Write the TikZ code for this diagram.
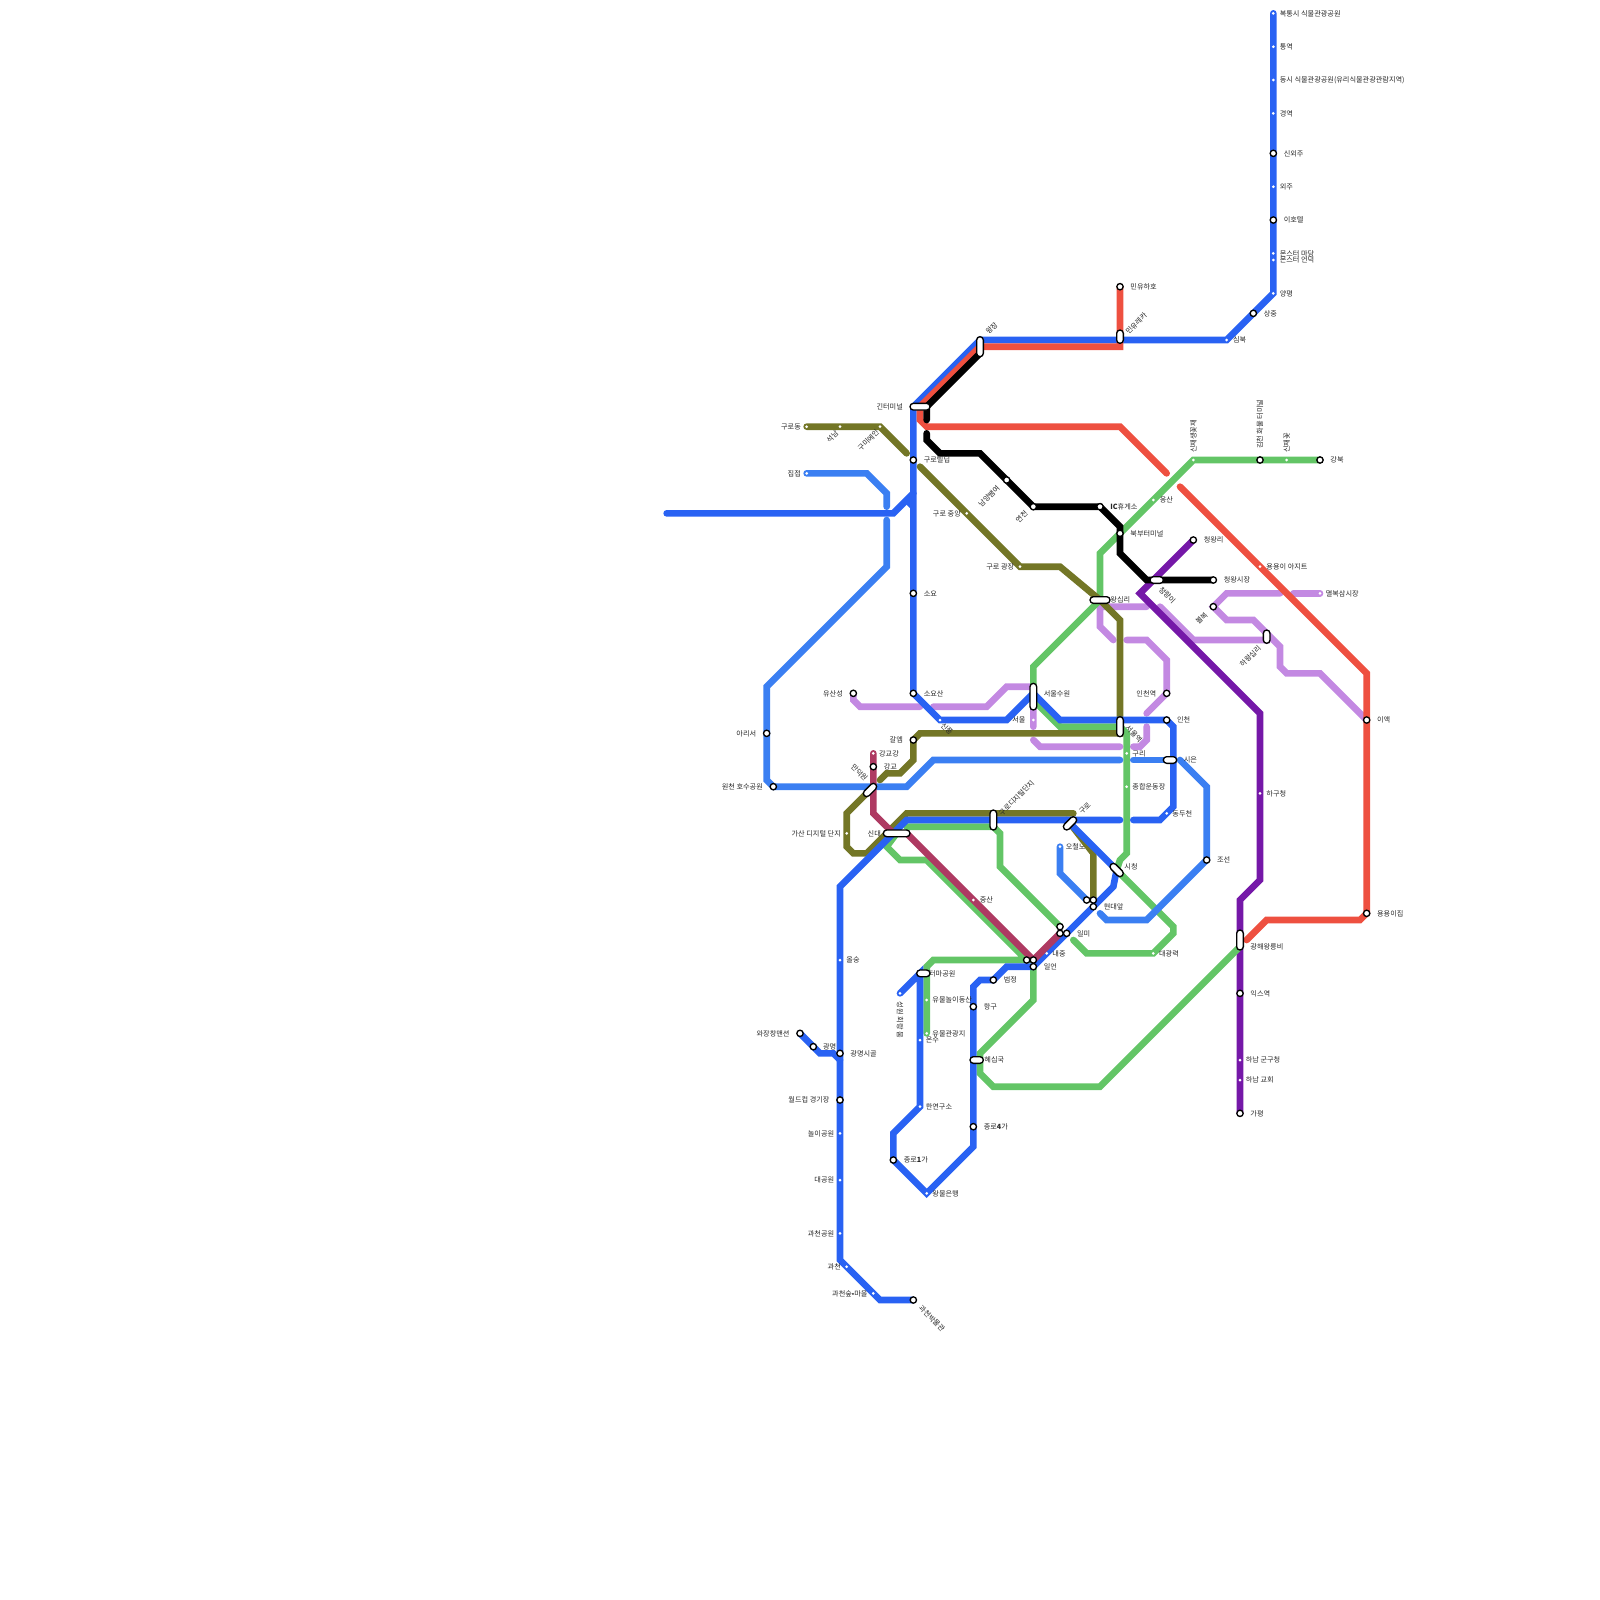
\documentclass[tikz,border=0pt]{standalone}
\usepackage{fontspec}
\setmainfont{Noto Sans CJK KR}
\usepackage{xcolor}
\usetikzlibrary{backgrounds}
\definecolor{blueline}{HTML}{2962F3}
\definecolor{skyline}{HTML}{3B7FF2}
\definecolor{redline}{HTML}{EE5040}
\definecolor{greenline}{HTML}{63C566}
\definecolor{oliveline}{HTML}{737626}
\definecolor{lilacline}{HTML}{C389E2}
\definecolor{purpleline}{HTML}{7518A8}
\definecolor{rubyline}{HTML}{AE3A62}
\tikzset{
  route/.style={line width=0.1cm, line cap=round, line join=miter},
  sdot/.style={circle, fill=white, inner sep=0pt, minimum size=0.045cm},
  sbig/.style={circle, fill=white, draw=black, line width=0.02cm, inner sep=0pt, minimum size=0.095cm},
  xchange/.style={draw=black, fill=white, line width=0.02cm, inner sep=0pt, rounded corners=0.05cm},
  lbl/.style={font=\fontsize{3.05pt}{3.6pt}\selectfont, text=black!85, inner sep=0pt, anchor=west},
  lbr/.style={lbl, anchor=east},
  lup/.style={lbl, rotate=45},
  ldn/.style={lbl, rotate=-45},
  lvert/.style={lbl, rotate=90},
}
\begin{document}
\begin{tikzpicture}[x=0.1cm, y=-0.1cm]
\useasboundingbox (0,0) rectangle (240,240);
% blue north branch
\node[sdot] (bokt) at (191,2) {};
\node[lbl] at (191.9,2) {복통시 식물관광공원};
\node[sdot] (tong) at (191,7) {};
\node[lbl] at (191.9,7) {통역};
\node[sdot] (dong) at (191,12) {};
\node[lbl] at (191.9,12) {동시 식물관광공원(유리식물관광관람지역)};
\node[sdot] (gyeong) at (191,17) {};
\node[lbl] at (191.9,17) {경역};
\node[sbig] (sinoe) at (191,23) {};
\node[lbl] at (192.5,23) {신외주};
\node[sdot] (oeju) at (191,28) {};
\node[lbl] at (191.9,28) {외주};
\node[sbig] (hotel) at (191,33) {};
\node[lbl] at (192.5,33) {이호텔};
\node[sdot] (madang) at (191,38) {};
\node[lbl] at (191.9,38) {몬스터 마당};
\node[sdot] (eondeok) at (191,39) {};
\node[lbl] at (191.9,39) {몬스터 언덕};
\node[sdot] (yangp) at (191,44) {};
\node[lbl] at (191.9,44) {양평};
\node[sbig] (sangj) at (188,47) {};
\node[lbl] at (189.5,47) {상중};
\node[sdot] (simb) at (184,51) {};
\node[lbl] at (184.9,51) {심북};
\node[sbig] (hoho) at (168,43) {};
\node[lbl] at (169.5,43) {민유하호};
\node[xchange, minimum width=0.1cm, minimum height=0.2cm] (eureka) at (168,50.5) {};
\node[lup] at (169,50) {민유레카};
% north-west
\node[xchange, minimum width=0.3cm, minimum height=0.1cm] (gteo) at (138,61) {};
\node[lbr] at (135.5,61) {긴터미널};
\node[xchange, minimum width=0.1cm, minimum height=0.3cm] (wangj) at (147,52) {};
\node[lup] at (148,50) {왕장};
\node[sdot] (gurod) at (121,64) {};
\node[lbr] at (120.2,64) {구로동};
\node[sdot] (seok) at (126,64) {};
\node[lup, anchor=east] at (125.6,64.8) {석남};
\node[sdot] (gumi) at (132,64) {};
\node[lup, anchor=east] at (131.7,64.6) {구미에인};
\node[sbig] (gubil) at (137,69) {};
\node[lbl] at (138.5,69) {구로빌딥};
\node[sdot] (jibj) at (121,71) {};
\node[lbr] at (120.2,71) {집접};
\node[sdot] (gujung) at (145,77) {};
\node[lbr] at (144.2,77) {구로 중앙};
\node[sdot] (gujang) at (153,85) {};
\node[lbr] at (152.2,85) {구로 광장};
\node[sbig] (soyo) at (137,89) {};
\node[lbl] at (138.5,89) {소요};
\node[sbig] (namy) at (151,72) {};
\node[lup, anchor=east] at (149.8,73) {남양쌤여};
\node[sbig] (yeonc) at (155,76) {};
\node[lup, anchor=east] at (154,76.8) {연천};
\node[sbig] (icrest) at (165,76) {};
\node[lbl] at (166.5,76) {\textbf{IC}휴게소};
\node[sbig] (bukb) at (168,80) {};
\node[lbl] at (169.5,80) {북부터미널};
\node[sdot] (oks) at (173,75) {};
\node[lbl] at (173.9,75) {옹산};
% north-east
\node[sdot] (ssin1) at (179,69) {};
\node[lvert] at (179,68) {신재생꽃재};
\node[sbig] (gimc) at (189,69) {};
\node[lvert] at (189,67.4) {김천 화물 터미널};
\node[sdot] (ssin2) at (193,69) {};
\node[lvert] at (193,68) {신재꽃};
\node[sbig] (gangb) at (198,69) {};
\node[lbl] at (199.5,69) {강북};
\node[sbig] (cheongr) at (179,81) {};
\node[lbl] at (180.5,81) {청왕리};
\node[xchange, minimum width=0.2cm, minimum height=0.1cm] (cheongy) at (173.5,87) {};
\node[ldn] at (174,88.2) {청량이};
\node[sbig] (cheongs) at (182,87) {};
\node[lbl] at (183.5,87) {청왕시장};
\node[sdot] (agit) at (189,85) {};
\node[lbl] at (189.9,85) {용용이 아지트};
\node[sdot] (byeol) at (198,89) {};
\node[lbl] at (198.8,89) {멸복삼시장};
\node[sbig] (bolb) at (182,91) {};
\node[lup, anchor=east] at (181,92) {볼복};
\node[xchange, minimum width=0.1cm, minimum height=0.2cm] (hawang) at (190,95.5) {};
\node[lup, anchor=east] at (189,97) {하왕십리};
\node[xchange, minimum width=0.3cm, minimum height=0.1cm] (wangs) at (165,90) {};
\node[lbl] at (166.5,90) {왕십리};
\node[sbig] (incy) at (175,104) {};
\node[lbr] at (173.5,104) {인천역};
\node[sbig] (inch) at (175,108) {};
\node[lbl] at (176.5,108) {인천};
\node[sbig] (iaek) at (205,108) {};
\node[lbl] at (206.5,108) {이액};
% middle
\node[sbig] (yusan) at (128,104) {};
\node[lbr] at (126.5,104) {유산성};
\node[sbig] (soyos) at (137,104) {};
\node[lbl] at (138.5,104) {소요산};
\node[sdot] (sinp) at (141,108) {};
\node[ldn] at (141.3,108.6) {신풍};
\node[xchange, minimum width=0.1cm, minimum height=0.4cm] (swon) at (155,104.5) {};
\node[lbl] at (156.5,104) {서울수원};
\node[sdot] (seoul) at (155,108) {};
\node[lbr] at (153.9,108) {서울};
\node[sbig] (gal) at (137,111) {};
\node[lbr] at (135.5,111) {갈엠};
\node[xchange, minimum width=0.1cm, minimum height=0.3cm] (seoulst) at (168,109) {};
\node[ldn] at (169,109) {서울역};
\node[sdot] (guri) at (169,113) {};
\node[lbl] at (169.8,113) {구리};
\node[xchange, minimum width=0.2cm, minimum height=0.1cm] (sieun) at (175.5,114) {};
\node[lbl] at (177.5,114) {시은};
\node[sdot] (jonghap) at (169,118) {};
\node[lbl] at (169.8,118) {종합운동장};
\node[sdot] (gangg) at (131,113) {};
\node[lbl] at (131.8,113) {강교강};
\node[sbig] (gang) at (131,115) {};
\node[lbl] at (132.5,115) {강교};
\node[sbig] (ari) at (115,110) {};
\node[lbr] at (113.5,110) {아리서};
\node[sbig] (wonc) at (116,118) {};
\node[lbr] at (114.5,118) {원천 호수공원};
\node[xchange, minimum height=0.1cm, rotate=45, minimum width=0.24cm] (mand) at (130.5,118.5) {};
\node[ldn, anchor=east] at (130,117) {만덕원};
\node[sdot] (gasan) at (127,125) {};
\node[lbr] at (126.2,125) {가산 디지털 단지};
\node[xchange, minimum width=0.4cm, minimum height=0.1cm] (sind) at (134.5,125) {};
\node[lbr] at (132.2,125) {신대};
\node[xchange, minimum width=0.1cm, minimum height=0.3cm] (gudi) at (149,123) {};
\node[lup] at (150,122.2) {구로디지털단지};
\node[xchange, minimum height=0.1cm, rotate=45, minimum width=0.24cm] (guro) at (160.5,123.5) {};
\node[lup] at (162,122) {구로};
\node[sdot] (ocheol) at (159,127) {};
\node[lbl] at (159.8,127) {오철노};
\node[sdot] (dongd) at (175,122) {};
\node[lbl] at (175.8,122) {동두천};
\node[xchange, minimum height=0.1cm, rotate=-45, minimum width=0.24cm] (sich) at (167.5,130.5) {};
\node[lbl] at (168.6,130) {시청};
\node[sbig] (joseon) at (181,129) {};
\node[lbl] at (182.5,129) {조선};
\node[sdot] (hagu) at (189,119) {};
\node[lbl] at (189.9,119) {하구청};
\node[sbig] (yongj) at (205,137) {};
\node[lbl] at (206.5,137) {용용이집};
% centre junctions
\node[sdot] (jungs) at (146,135) {};
\node[lbl] at (146.9,135) {중산};
\node[sdot] (olsung) at (126,144) {};
\node[lbl] at (126.9,144) {올숭};
\node[sbig] (hy1) at (163,135) {};
\node[sbig] (hy2) at (164,135) {};
\node[sbig] (hyeond) at (164,136) {};
\node[lbl] at (165.5,136) {현대앞};
\node[sbig] (il1) at (159,139) {};
\node[sbig] (il2) at (159,140) {};
\node[sbig] (ilm) at (160,140) {};
\node[lbl] at (161.5,140) {일미};
\node[sdot] (naej) at (157,143) {};
\node[lbl] at (157.8,143) {내중};
\node[sbig] (il3) at (154,144) {};
\node[sbig] (il4) at (155,144) {};
\node[sbig] (ilun) at (155,145) {};
\node[lbl] at (156.5,145) {일언};
\node[sdot] (daegw) at (173,143) {};
\node[lbl] at (173.8,143) {대광력};
\node[xchange, minimum width=0.1cm, minimum height=0.3cm] (gwanghae) at (186,141) {};
\node[lbl] at (187.5,142) {광해왕릉비};
\node[sbig] (ikseu) at (186,149) {};
\node[lbl] at (187.5,149) {익스역};
\node[sdot] (hanamg) at (186,159) {};
\node[lbl] at (186.8,159) {하남 군구청};
\node[sdot] (hanamk) at (186,162) {};
\node[lbl] at (186.8,162) {하남 교회};
\node[sbig] (gapy) at (186,167) {};
\node[lbl] at (187.5,167) {가평};
% south
\node[xchange, minimum width=0.2cm, minimum height=0.1cm] (tema) at (138.5,146) {};
\node[lbl] at (139.3,146) {터마공원};
\node[sdot] (seongw) at (135,149) {};
\node[lvert, rotate=180, anchor=west] at (135,150.2) {성원 회랑 뭄};
\node[sbig] (beom) at (149,147) {};
\node[lbl] at (150.5,147) {범정};
\node[sdot] (yunol) at (139,150) {};
\node[lbl] at (139.8,150) {유물놀이동산};
\node[sbig] (hang) at (146,151) {};
\node[lbl] at (147.5,151) {항구};
\node[sdot] (yugwan) at (139,155) {};
\node[lbl] at (139.8,155) {유물관광지};
\node[sdot] (onsu) at (138,156) {};
\node[lbl] at (138.8,156) {온수};
\node[xchange, minimum width=0.2cm, minimum height=0.1cm] (hyesip) at (146.5,159) {};
\node[lbl] at (147.6,159) {혜십국};
\node[sdot] (hany) at (138,166) {};
\node[lbl] at (138.8,166) {한연구소};
\node[sbig] (jong4) at (146,169) {};
\node[lbl] at (147.5,169) {종로\textbf{4}가};
\node[sbig] (jong1) at (134,174) {};
\node[lbl] at (135.5,174) {종로\textbf{1}가};
\node[sdot] (wangm) at (139,179) {};
\node[lbl] at (139.8,179) {왕물은행};
\node[sbig] (wajang) at (120,155) {};
\node[lbr] at (118.5,155) {와장창맨션};
\node[sbig] (gmy) at (122,157) {};
\node[lbl] at (123.4,157) {광명};
\node[sbig] (gmsi) at (126,158) {};
\node[lbl] at (127.5,158) {광명시골};
\node[sbig] (wcup) at (126,165) {};
\node[lbr] at (124.5,165) {월드컵 경기장};
\node[sdot] (nori) at (126,170) {};
\node[lbr] at (125.2,170) {놀이공원};
\node[sdot] (daeg) at (126,177) {};
\node[lbr] at (125.2,177) {대공원};
\node[sdot] (gcgong) at (126,185) {};
\node[lbr] at (125.2,185) {과천공원};
\node[sdot] (gc) at (127,190) {};
\node[lbr] at (126.2,190) {과천};
\node[sdot] (gcsup) at (131,194) {};
\node[lbr] at (130.2,194) {과천숲•마을};
\node[sbig] (gcmus) at (137,195) {};
\node[ldn] at (138,196) {과천박물관};
\begin{pgfonlayer}{background}
% lilac
\draw[route, lilacline] (yusan.center) -- (128,105) -- (129,106) -- (138,106);
\draw[route, lilacline] (140,106) -- (148,106) -- (151,103) -- (155,103) -- (155,109);
\draw[route, lilacline] (155,111) -- (156,112) -- (168,112);
\draw[route, lilacline] (170,112) -- (171,112) -- (172,111) -- (172,109);
\draw[route, lilacline] (172,107) -- (incy.center) -- (175,99) -- (172,96) -- (169,96);
\draw[route, lilacline] (167,96) -- (165,94) -- (wangs.center) -- (165,91) -- (172,91);
\draw[route, lilacline] (174,91) -- (179,96) -- (190,96) -- (hawang.center);
\draw[route, lilacline] (192,89) -- (184,89) -- (bolb.center) -- (184,93) -- (188,93) -- (192,97) -- (192,100) -- (193,101) -- (198,101) -- (204,107) -- (iaek.center);
\draw[route, lilacline] (194,89) -- (byeol.center);
% purple
\draw[route, purpleline] (cheongr.center) -- (171,89) -- (189,107) -- (189,132) -- (186,135) -- (gwanghae.center) -- (gapy.center);
% green
\draw[route, greenline] (gangb.center) -- (ssin1.center) -- (165,83) -- (wangs.center) -- (155,100) -- (swon.center) -- (155,105) -- (159,109) -- (seoulst.center) -- (169,110) -- (169,128) -- (168,129) -- (sich.center) -- (176,139) -- (176,140) -- (daegw.center) -- (163,143) -- (161,141);
\draw[route, greenline] (sind.center) -- (133,127) -- (135,129) -- (139,129) -- (il3.center) -- (140,144) -- (139,145) -- (yugwan.center);
\draw[route, greenline] (136,124) -- (149,124) -- (150,125) -- (150,130) -- (il1.center);
\draw[route, greenline] (ilun.center) -- (155,150) -- (147,158) -- (147,161) -- (149,163) -- (165,163) -- (186,142) -- (gwanghae.center);
% olive
\draw[route, oliveline] (gurod.center) -- (132,64) -- (136,68);
\draw[route, oliveline] (138,70) -- (gujang.center) -- (159,85) -- (wangs.center) -- (168,93) -- (seoulst.center);
\draw[route, oliveline] (seoulst.center) -- (168,110) -- (138,110) -- (gal.center) -- (137,114) -- (135,116) -- (133,116) -- (132,117);
\draw[route, oliveline] (mand.center) -- (127,122) -- (127,127) -- (128,128) -- (130,128) -- (136,122) -- (161,122);
\draw[route, oliveline] (guro.center) -- (164,128) -- (hy2.center);
% sky blue
\draw[route, skyline] (jibj.center) -- (130,71) -- (133,74) -- (133,76);
\draw[route, skyline] (133,78) -- (133,85) -- (115,103) -- (115,117) -- (wonc.center) -- (136,118) -- (140,114) -- (168,114);
\draw[route, skyline] (170,114) -- (sieun.center);
\draw[route, skyline] (177,114) -- (181,118) -- (joseon.center) -- (172,138) -- (166,138) -- (165,137);
\draw[route, skyline] (ocheol.center) -- (159,131) -- (hy1.center);
% blue
\draw[route, blueline] (bokt.center) -- (yangp.center) -- (simb.center) -- (147,51) -- (137,61) -- (soyos.center) -- (sinp.center) -- (151,108) -- (155,104) -- (159,108) -- (inch.center) -- (176,109) -- (176,121) -- (174,123) -- (170,123);
\draw[route, blueline] (100,77) -- (134,77) -- (137,74);
\draw[route, blueline, line cap=butt] (137,76) -- (136,75);
\draw[route, blueline] (168,123) -- (136,123) -- (126,133) -- (126,189) -- (132,195) -- (gcmus.center);
\draw[route, blueline] (wajang.center) -- (123,158) -- (125,158) -- (126,159);
\draw[route, blueline] (160,123) -- (sich.center) -- (167,133) -- (ilun.center) -- (151,145) -- (beom.center) -- (147,147) -- (146,148) -- (146,172) -- (wangm.center) -- (jong1.center) -- (134,170) -- (138,166) -- (138,146) -- (seongw.center);
% ruby
\draw[route, rubyline] (gangg.center) -- (131,122) -- (134,125) -- (136,125) -- (il4.center) -- (il2.center);
% red
\draw[route, redline] (hoho.center) -- (168,52) -- (147,52) -- (138,61) -- (138,63) -- (139,64) -- (168,64) -- (175,71);
\draw[route, redline] (177,73) -- (205,101) -- (yongj.center) -- (204,138) -- (190,138) -- (187,141);
% black
\draw[route, black] (147,53) -- (139,61) -- (139,63);
\draw[route, black] (139,65) -- (139,66) -- (141,68) -- (147,68) -- (yeonc.center) -- (icrest.center) -- (168,79) -- (168,83) -- (172,87) -- (cheongs.center);
\end{pgfonlayer}
\end{tikzpicture}
\end{document}
